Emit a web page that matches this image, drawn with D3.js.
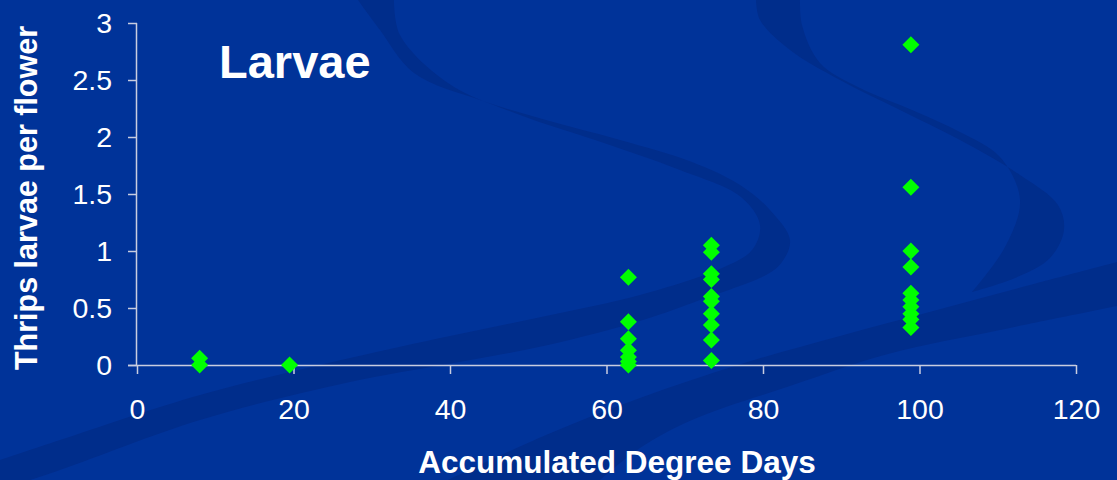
<!DOCTYPE html>
<html>
<head>
<meta charset="utf-8">
<script src="https://cdn.jsdelivr.net/npm/d3@7"></script>
<style>
  html, body { margin: 0; padding: 0; background: #003399; }
  svg { display: block; }
  text { font-family: "Liberation Sans", Arial, sans-serif; }
</style>
</head>
<body>
<svg id="chart" width="1117" height="480"></svg>
<script>
// ---- data ----
const degreeDays = [8, 19.5, 62.8, 73.4, 98.9];
const larvaeAt8 = [0.06, 0.0];
const larvaeAt19 = [0.0];
const larvaeAt63 = [0.77, 0.38, 0.23, 0.13, 0.07, 0.03, 0.0];
const larvaeAt73 = [1.05, 0.99, 0.80, 0.75, 0.60, 0.56, 0.45, 0.35, 0.22, 0.04];
const larvaeAt99 = [2.81, 1.56, 1.0, 0.86, 0.63, 0.57, 0.51, 0.45, 0.40, 0.33];
const xTicks = [0, 20, 40, 60, 80, 100, 120];
const yTicks = [0, 0.5, 1, 1.5, 2, 2.5, 3];
const titleText = "Larvae";
const xTitle = "Accumulated Degree Days";
const yTitle = "Thrips larvae per flower";

const groups = [larvaeAt8, larvaeAt19, larvaeAt63, larvaeAt73, larvaeAt99];
const points = [];
groups.forEach((vals, i) => vals.forEach(v => points.push({x: degreeDays[i], y: v})));

// ---- layout ----
const W = 1117, H = 480;
const svg = d3.select("#chart");
const x = d3.scaleLinear().domain([0, 120]).range([137, 1076]);
const y = d3.scaleLinear().domain([0, 3]).range([365, 23]);

// background
svg.append("rect").attr("width", W).attr("height", H).attr("fill", "#003399");

const band = (a, b) => {
  const l = d3.line().curve(d3.curveCatmullRom);
  const pa = l(a), pb = l(b.slice().reverse());
  return pa + "L" + pb.slice(1) + "Z";
};
const swoosh = svg.append("g").attr("fill", "#002d8b");
swoosh.append("path").attr("d", band(
  [[358,0],[380,30],[414,73],[480,100],[546,120],[620,140],[692,162],[740,185],[770,210],[790,240],[782,262],[766,275],[700,300],[643,320],[548,345],[448,364],[350,382],[200,420],[60,470],[0,490]],
  [[394,0],[400,35],[448,83],[520,115],[595,140],[680,170],[741,197],[760,225],[752,250],[722,268],[640,295],[546,316],[450,336],[350,358],[200,395],[60,440],[0,460]]
));
swoosh.append("path").attr("d", band(
  [[756,0],[760,20],[790,50],[840,80],[900,110],[960,140],[1020,175],[1058,205],[1064,230],[1050,258],[1015,278],[972,292]],
  [[800,0],[802,25],[820,63],[860,88],[912,110],[960,132],[1000,157],[1020,200],[1005,247],[972,292]]
));
swoosh.append("path").attr("d", band(
  [[1117,262],[1030,285],[937,310],[840,336],[741,364],[640,398],[546,435],[448,480]],
  [[1117,306],[1000,330],[888,354],[790,386],[692,420],[640,448],[600,480]]
));

// axes
const axisColor = "#c9cde0";
const yAxis = svg.append("g").attr("transform", "translate(137,0)")
  .call(d3.axisLeft(y).tickValues(yTicks).tickSize(9).tickPadding(16).tickFormat(d3.format("")));
const xAxis = svg.append("g").attr("transform", "translate(0,365)")
  .call(d3.axisBottom(x).tickValues(xTicks).tickSize(9).tickPadding(25).tickFormat(d3.format("")));
[yAxis, xAxis].forEach(g => {
  g.select(".domain").attr("stroke", axisColor).attr("stroke-width", 1.5);
  g.selectAll(".tick line").attr("stroke", axisColor).attr("stroke-width", 1.5);
  g.selectAll(".tick text").attr("fill", "#ffffff").attr("font-size", 28.5)
    .attr("font-family", "'Liberation Sans', Arial, sans-serif");
});
xAxis.select(".domain").attr("d", `M${128},0.5H${1076}`);
yAxis.select(".domain").attr("d", `M-0.5,${y(3)}V${y(0)}`);

// points (diamonds)
const s = 8.5;
svg.append("g").selectAll("path").data(points).join("path")
  .attr("transform", d => `translate(${x(d.x)},${y(d.y)})`)
  .attr("d", `M0,${-s}L${s},0L0,${s}L${-s},0Z`)
  .attr("fill", "#00ff00");

// titles
svg.append("text").attr("x", 219).attr("y", 78)
  .attr("font-size", 47).attr("font-weight", "bold").attr("fill", "#fff").text(titleText);
svg.append("text").attr("x", 617).attr("y", 473).attr("text-anchor", "middle")
  .attr("font-size", 31.5).attr("font-weight", "bold").attr("fill", "#fff").text(xTitle);
svg.append("text").attr("transform", "translate(37,198) rotate(-90)").attr("text-anchor", "middle")
  .attr("font-size", 30.5).attr("font-weight", "bold").attr("fill", "#fff").text(yTitle);
</script>
</body>
</html>
